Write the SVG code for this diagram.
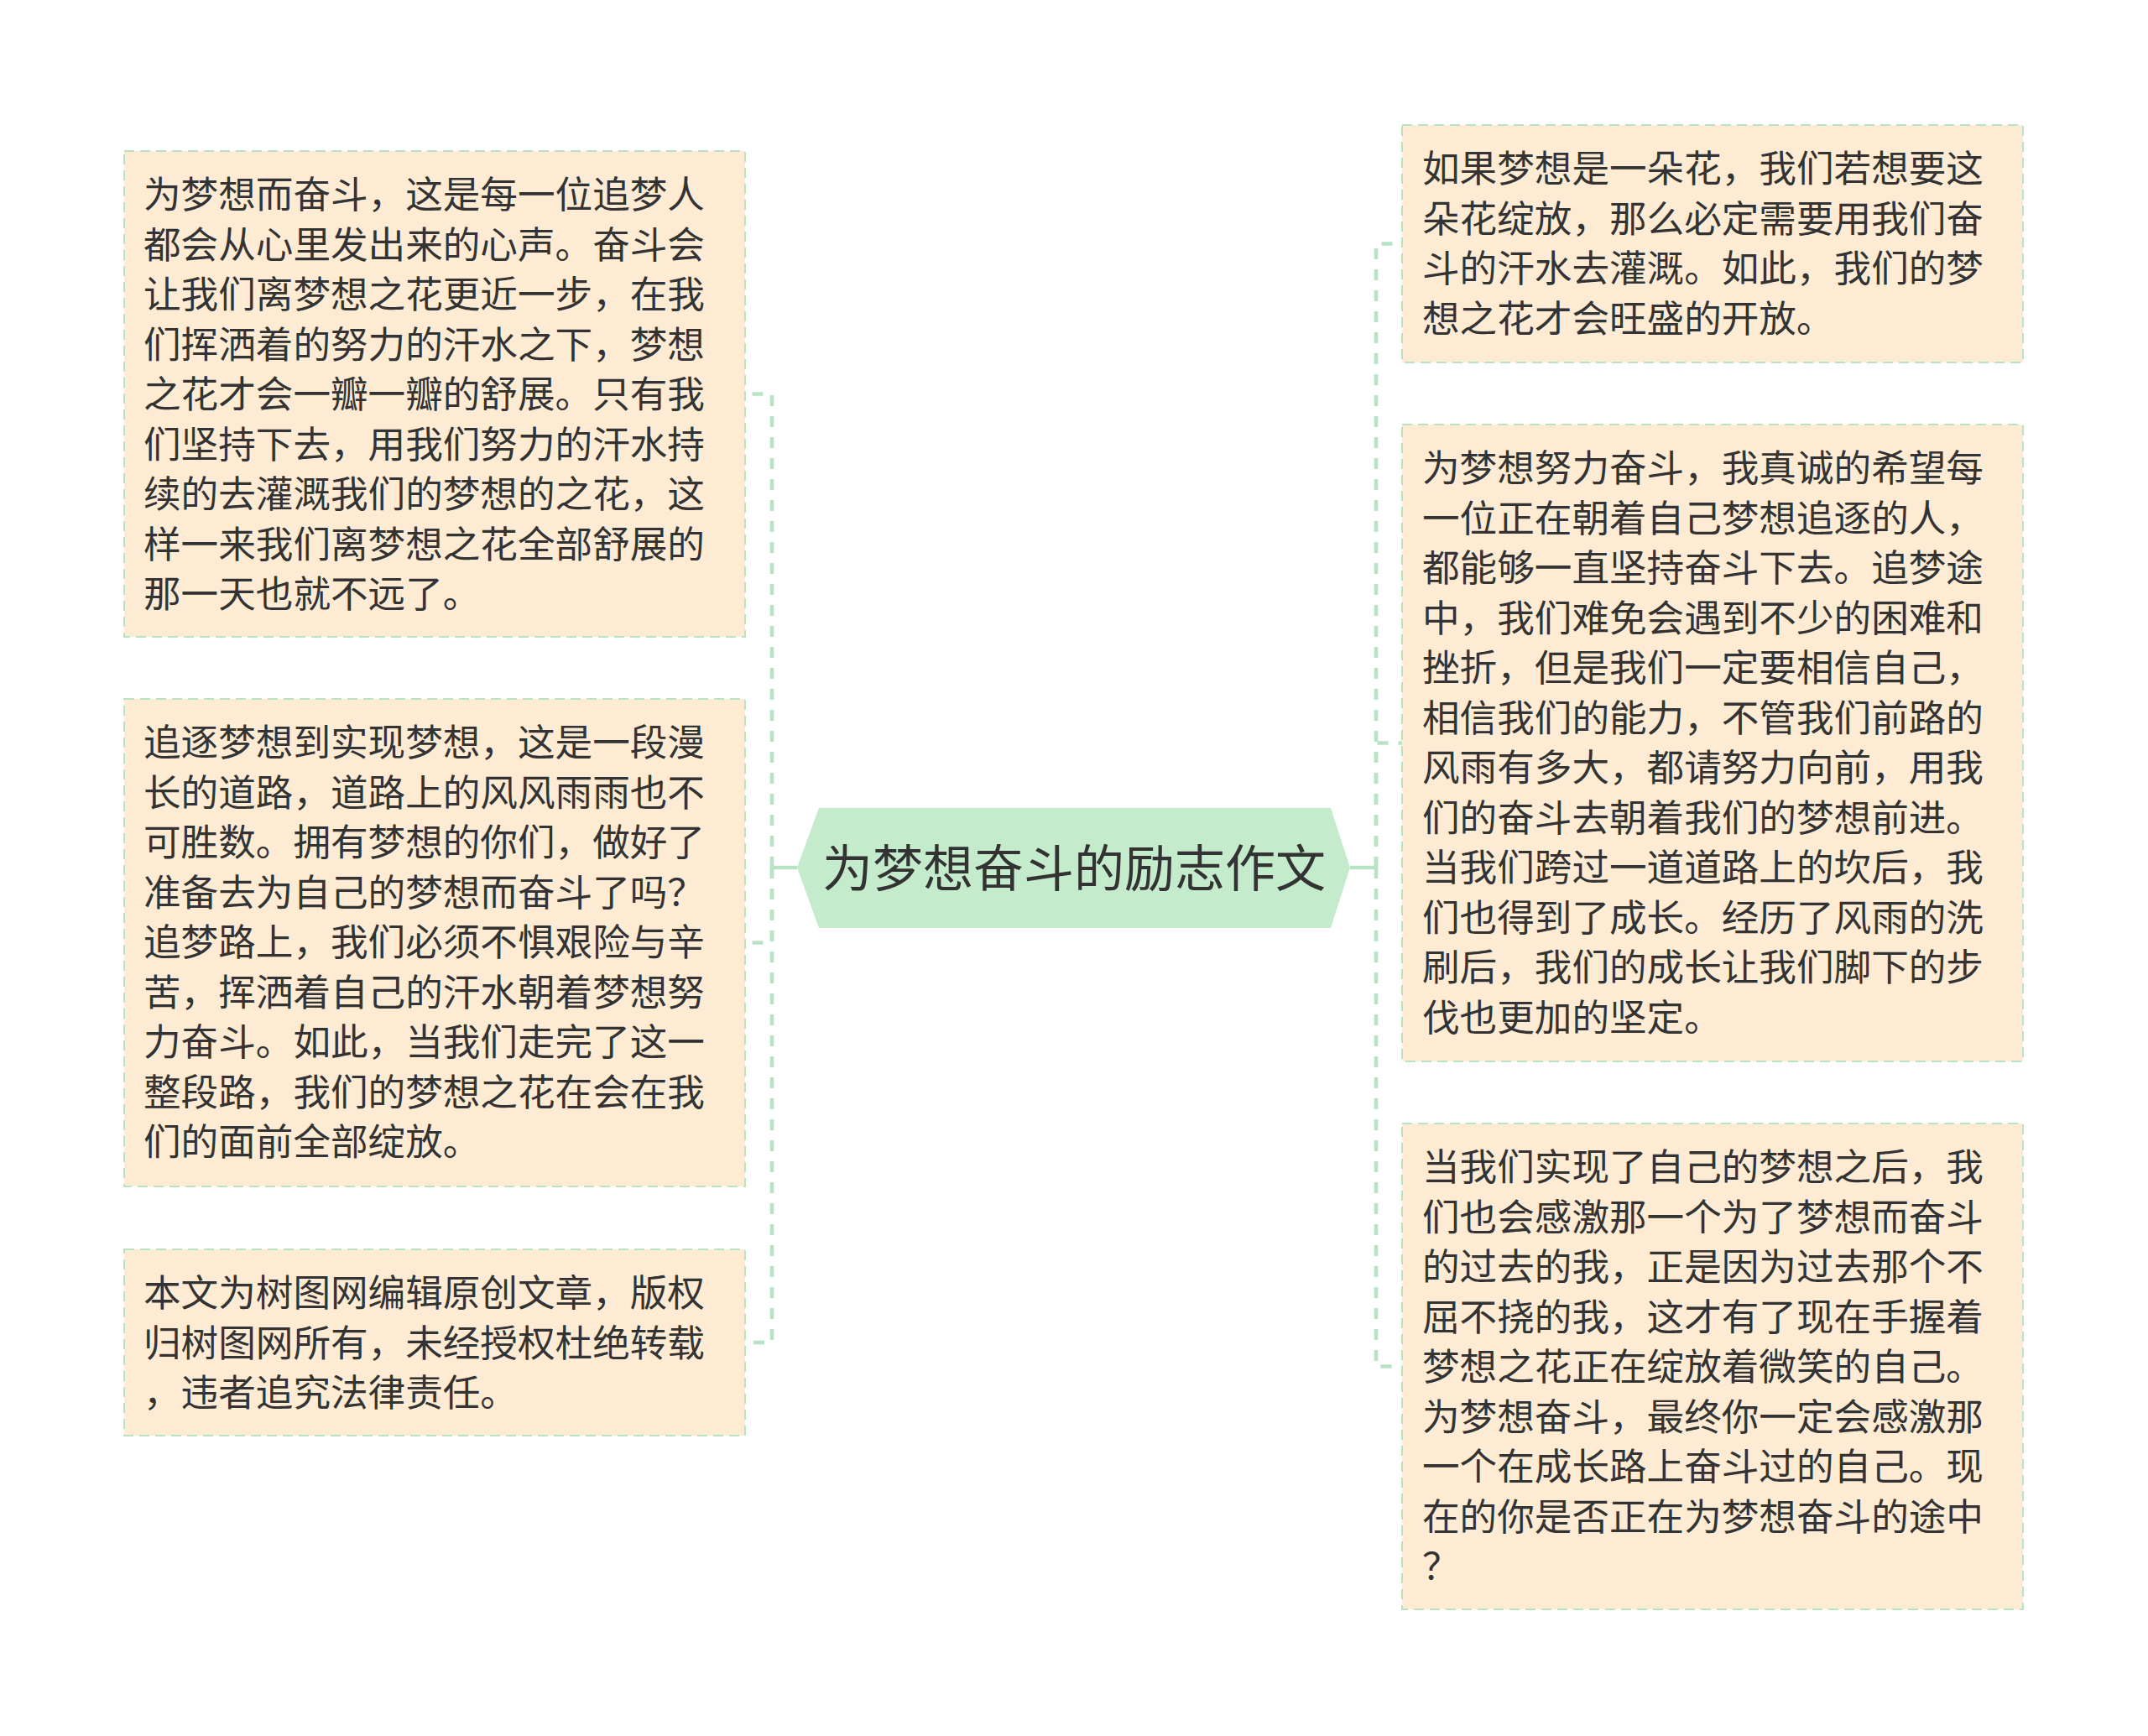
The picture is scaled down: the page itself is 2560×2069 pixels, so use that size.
<svg xmlns="http://www.w3.org/2000/svg" width="2560" height="2069" viewBox="0 0 2560 2069">
<style>
.box{fill:#fdebd4;stroke:#b9e4c4;stroke-width:2;stroke-dasharray:12 7}
.t{font-family:"Noto Sans CJK SC","Noto Sans CJK JP",sans-serif;font-size:44.6px;fill:#333333}
.ct{font-family:"Noto Sans CJK SC","Noto Sans CJK JP",sans-serif;font-size:60px;fill:#333333}
.c{fill:none;stroke:#b9e4c4;stroke-width:4.5;stroke-dasharray:13 12}
.cs{fill:none;stroke:#b9e4c4;stroke-width:4.5}
</style>
<rect width="2560" height="2069" fill="#ffffff"/>
<g id="connectors">
<line class="cs" x1="950" y1="1034" x2="920" y2="1034"/>
<line class="cs" x1="1609" y1="1034" x2="1640" y2="1034"/>
<path class="c" d="M920 1034 V469.5 H888"/>
<path class="c" d="M920 1034 V1123.5 H888"/>
<path class="c" d="M920 1034 V1600 H888"/>
<path class="c" d="M1640 1034 V290.5 H1671"/>
<path class="c" d="M1640 1034 V885.5 H1671"/>
<path class="c" d="M1640 1034 V1628.5 H1671"/>
</g>
<g id="center">
<polygon points="950,1034 976,963 1586,963 1609,1034 1586,1106 976,1106" fill="#c4ebcb"/>
<text class="ct" x="1280" y="1057" text-anchor="middle">为梦想奋斗的励志作文</text>
</g>
<g id="left1">
<rect class="box" x="148" y="180" width="740" height="579"/>
<text class="t">
<tspan x="171" y="248">为梦想而奋斗，这是每一位追梦人</tspan>
<tspan x="171" y="307.5">都会从心里发出来的心声。奋斗会</tspan>
<tspan x="171" y="367">让我们离梦想之花更近一步，在我</tspan>
<tspan x="171" y="426.5">们挥洒着的努力的汗水之下，梦想</tspan>
<tspan x="171" y="486">之花才会一瓣一瓣的舒展。只有我</tspan>
<tspan x="171" y="545.5">们坚持下去，用我们努力的汗水持</tspan>
<tspan x="171" y="605">续的去灌溉我们的梦想的之花，这</tspan>
<tspan x="171" y="664.5">样一来我们离梦想之花全部舒展的</tspan>
<tspan x="171" y="724">那一天也就不远了。</tspan>
</text>
</g>
<g id="left2">
<rect class="box" x="148" y="833" width="740" height="581"/>
<text class="t">
<tspan x="171" y="901">追逐梦想到实现梦想，这是一段漫</tspan>
<tspan x="171" y="960.5">长的道路，道路上的风风雨雨也不</tspan>
<tspan x="171" y="1020">可胜数。拥有梦想的你们，做好了</tspan>
<tspan x="171" y="1079.5">准备去为自己的梦想而奋斗了吗？</tspan>
<tspan x="171" y="1139">追梦路上，我们必须不惧艰险与辛</tspan>
<tspan x="171" y="1198.5">苦，挥洒着自己的汗水朝着梦想努</tspan>
<tspan x="171" y="1258">力奋斗。如此，当我们走完了这一</tspan>
<tspan x="171" y="1317.5">整段路，我们的梦想之花在会在我</tspan>
<tspan x="171" y="1377">们的面前全部绽放。</tspan>
</text>
</g>
<g id="left3">
<rect class="box" x="148" y="1489" width="740" height="222"/>
<text class="t">
<tspan x="171" y="1557">本文为树图网编辑原创文章，版权</tspan>
<tspan x="171" y="1616.5">归树图网所有，未经授权杜绝转载</tspan>
<tspan x="171" y="1676">，违者追究法律责任。</tspan>
</text>
</g>
<g id="right1">
<rect class="box" x="1671" y="149" width="740" height="283"/>
<text class="t">
<tspan x="1695" y="217">如果梦想是一朵花，我们若想要这</tspan>
<tspan x="1695" y="276.5">朵花绽放，那么必定需要用我们奋</tspan>
<tspan x="1695" y="336">斗的汗水去灌溉。如此，我们的梦</tspan>
<tspan x="1695" y="395.5">想之花才会旺盛的开放。</tspan>
</text>
</g>
<g id="right2">
<rect class="box" x="1671" y="506" width="740" height="759"/>
<text class="t">
<tspan x="1695" y="574">为梦想努力奋斗，我真诚的希望每</tspan>
<tspan x="1695" y="633.5">一位正在朝着自己梦想追逐的人，</tspan>
<tspan x="1695" y="693">都能够一直坚持奋斗下去。追梦途</tspan>
<tspan x="1695" y="752.5">中，我们难免会遇到不少的困难和</tspan>
<tspan x="1695" y="812">挫折，但是我们一定要相信自己，</tspan>
<tspan x="1695" y="871.5">相信我们的能力，不管我们前路的</tspan>
<tspan x="1695" y="931">风雨有多大，都请努力向前，用我</tspan>
<tspan x="1695" y="990.5">们的奋斗去朝着我们的梦想前进。</tspan>
<tspan x="1695" y="1050">当我们跨过一道道路上的坎后，我</tspan>
<tspan x="1695" y="1109.5">们也得到了成长。经历了风雨的洗</tspan>
<tspan x="1695" y="1169">刷后，我们的成长让我们脚下的步</tspan>
<tspan x="1695" y="1228.5">伐也更加的坚定。</tspan>
</text>
</g>
<g id="right3">
<rect class="box" x="1671" y="1339" width="740" height="579"/>
<text class="t">
<tspan x="1695" y="1407">当我们实现了自己的梦想之后，我</tspan>
<tspan x="1695" y="1466.5">们也会感激那一个为了梦想而奋斗</tspan>
<tspan x="1695" y="1526">的过去的我，正是因为过去那个不</tspan>
<tspan x="1695" y="1585.5">屈不挠的我，这才有了现在手握着</tspan>
<tspan x="1695" y="1645">梦想之花正在绽放着微笑的自己。</tspan>
<tspan x="1695" y="1704.5">为梦想奋斗，最终你一定会感激那</tspan>
<tspan x="1695" y="1764">一个在成长路上奋斗过的自己。现</tspan>
<tspan x="1695" y="1823.5">在的你是否正在为梦想奋斗的途中</tspan>
<tspan x="1695" y="1883">？</tspan>
</text>
</g>
</svg>
